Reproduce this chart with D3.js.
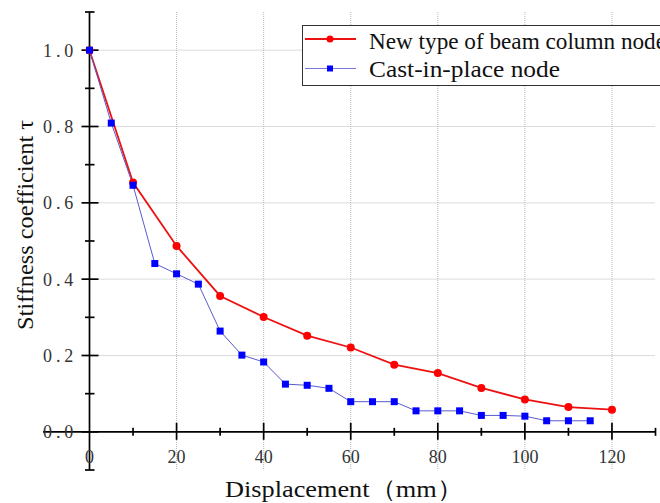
<!DOCTYPE html>
<html><head><meta charset="utf-8">
<script src="https://cdn.jsdelivr.net/npm/d3@7"></script>
</head><body style="margin:0;background:#fff">
<svg id="c" width="660" height="503"></svg>
<script>
// Data
const newX = [0,10,20,30,40,50,60,70,80,90,100,110,120];
const newY = [1.0,0.653,0.487,0.356,0.301,0.252,0.221,0.176,0.154,0.115,0.085,0.065,0.058];
const castX = [0,5,10,15,20,25,30,35,40,45,50,55,60,65,70,75,80,85,90,95,100,105,110,115];
const castY = [1.0,0.809,0.646,0.441,0.414,0.387,0.264,0.201,0.183,0.125,0.122,0.114,0.079,0.079,0.079,0.055,0.055,0.055,0.043,0.043,0.041,0.029,0.029,0.029];
const xMajor = [0,20,40,60,80,100,120];
const xMinor = [10,30,50,70,90,110,130];
const yMajor = [0,0.2,0.4,0.6,0.8,1.0];
const yMinor = [-0.1,0.1,0.3,0.5,0.7,0.9,1.1];
const seriesNames = ["New type of beam column node","Cast-in-place node"];

const FONT = '"Liberation Serif"';
const svg = d3.select("#c");
const x = d3.scaleLinear().domain([0,130]).range([89.5,655.5]);
const y = d3.scaleLinear().domain([-0.1,1.1]).range([470,12]);

// grid
const grid = svg.append("g").attr("stroke","#b8b8b8").attr("stroke-width",1).attr("stroke-dasharray","1,1");
xMajor.filter(d=>d>0).forEach(d=>{
  grid.append("line").attr("x1",x(d)).attr("x2",x(d)).attr("y1",y(1.1)).attr("y2",y(-0.1));
});
yMajor.filter(d=>d>0).forEach(d=>{
  grid.append("line").attr("x1",x(0)).attr("x2",x(130)).attr("y1",y(d)).attr("y2",y(d));
});

// axes
const ax = svg.append("g").attr("stroke","#000").attr("stroke-width",1.7);
ax.append("line").attr("x1",43).attr("x2",x(130)).attr("y1",y(0)).attr("y2",y(0));
ax.append("line").attr("x1",x(0)).attr("x2",x(0)).attr("y1",y(1.1)).attr("y2",y(-0.1));
xMajor.filter(d=>d>0).forEach(d=>ax.append("line").attr("x1",x(d)).attr("x2",x(d)).attr("y1",y(0)-9).attr("y2",y(0)+8));
xMinor.forEach(d=>ax.append("line").attr("x1",x(d)).attr("x2",x(d)).attr("y1",y(0)-4).attr("y2",y(0)+4));
yMajor.forEach(d=>ax.append("line").attr("x1",x(0)-8).attr("x2",x(0)+9).attr("y1",y(d)).attr("y2",y(d)));
yMinor.forEach(d=>ax.append("line").attr("x1",x(0)-4.5).attr("x2",x(0)+5).attr("y1",y(d)).attr("y2",y(d)));

// tick labels
svg.append("g").selectAll("text").data(xMajor).join("text")
  .attr("x",d=>x(d)).attr("y",463).attr("text-anchor","middle").style("font-family",FONT)
  .attr("font-size",18).attr("fill","#333").text(d=>d);
svg.append("g").selectAll("text").data(yMajor).join("text")
  .attr("x",77).attr("y",d=>y(d)+6.5).attr("text-anchor","end").style("font-family",FONT)
  .attr("font-size",18).attr("fill","#333").attr("letter-spacing","3.8")
  .text(d=>d3.format(".1f")(d));

// axis titles
svg.append("text").attr("x",225).attr("y",497).style("font-family",FONT)
  .attr("font-size",24).attr("fill","#111").attr("textLength",238).attr("lengthAdjust","spacingAndGlyphs")
  .text("Displacement（mm）");
svg.append("text").attr("transform","translate(33,330) rotate(-90)").style("font-family",FONT)
  .attr("font-size",23).attr("fill","#111").attr("textLength",210).attr("lengthAdjust","spacingAndGlyphs")
  .text("Stiffness coefficient τ");

// series
const line = d3.line().x(d=>x(d[0])).y(d=>y(d[1]));
const newData = newX.map((d,i)=>[d,newY[i]]);
const castData = castX.map((d,i)=>[d,castY[i]]);
svg.append("path").datum(newData).attr("d",line).attr("fill","none").attr("stroke","#ee1111").attr("stroke-width",1.8);
svg.append("path").datum(castData).attr("d",line).attr("fill","none").attr("stroke","#5a5ad0").attr("stroke-width",1);
svg.append("g").selectAll("circle").data(newData).join("circle")
  .attr("cx",d=>x(d[0])).attr("cy",d=>y(d[1])).attr("r",4).attr("fill","#ff0000");
svg.append("g").selectAll("rect").data(castData).join("rect")
  .attr("x",d=>x(d[0])-3.5).attr("y",d=>y(d[1])-3.5).attr("width",7).attr("height",7).attr("fill","#0000ff");

// legend
const lg = svg.append("g");
lg.append("rect").attr("x",302.5).attr("y",25.5).attr("width",370).attr("height",60)
  .attr("fill","#fff").attr("stroke","#333").attr("stroke-width",1);
lg.append("line").attr("x1",305).attr("x2",356).attr("y1",39).attr("y2",39).attr("stroke","#ee1111").attr("stroke-width",1.8);
lg.append("circle").attr("cx",330).attr("cy",39).attr("r",3.5).attr("fill","#ff0000");
lg.append("line").attr("x1",305).attr("x2",356).attr("y1",68.5).attr("y2",68.5).attr("stroke","#7777dd").attr("stroke-width",1);
lg.append("rect").attr("x",327).attr("y",65.5).attr("width",6).attr("height",6).attr("fill","#0000ff");
lg.append("text").attr("x",369).attr("y",49).attr("font-size",22.5).style("font-family",FONT).attr("fill","#111")
  .attr("textLength",297).attr("lengthAdjust","spacingAndGlyphs").text(seriesNames[0]);
lg.append("text").attr("x",369).attr("y",77).attr("font-size",22.5).style("font-family",FONT).attr("fill","#111")
  .attr("textLength",191).attr("lengthAdjust","spacingAndGlyphs").text(seriesNames[1]);
</script>
</body></html>
